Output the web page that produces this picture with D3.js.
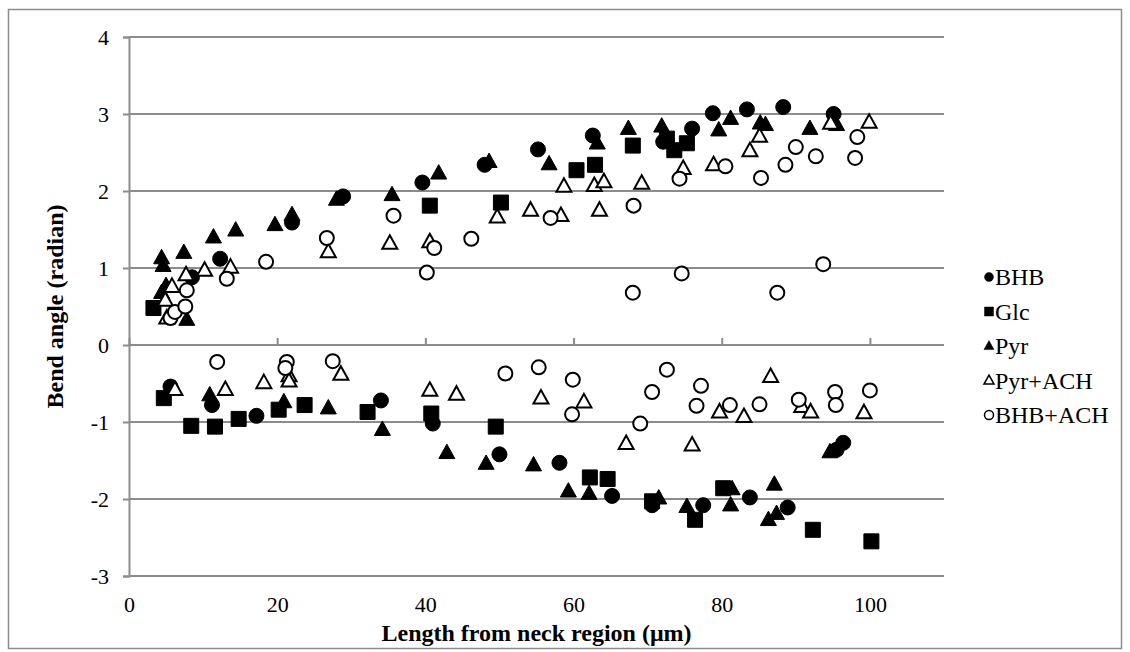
<!DOCTYPE html>
<html>
<head>
<meta charset="utf-8">
<script src="https://cdn.jsdelivr.net/npm/d3@7"></script>
<style>
  html, body { margin: 0; padding: 0; background: #fff; }
</style>
</head>
<body>
<svg id="chart" width="1130" height="652"></svg>
<script>
// Bend angle (radian) against length from the neck region (µm), five treatments.
const seriesNames = ["BHB", "Glc", "Pyr", "Pyr+ACH", "BHB+ACH"];

const bhbX = [8.5, 12.3, 22.0, 28.9, 39.6, 48.0, 55.2, 62.6, 72.1, 76.0, 78.8, 83.4, 88.3, 95.1,
              5.6, 11.2, 17.2, 34.0, 41.0, 50.0, 58.1, 65.2, 70.6, 77.5, 83.8, 88.9, 95.5, 96.4];
const bhbY = [0.88, 1.12, 1.59, 1.93, 2.11, 2.34, 2.54, 2.72, 2.64, 2.81, 3.01, 3.06, 3.09, 3.00,
              -0.54, -0.78, -0.92, -0.72, -1.02, -1.42, -1.53, -1.96, -2.08, -2.08, -1.98, -2.11, -1.36, -1.27];

const glcX = [3.3, 40.6, 50.2, 60.4, 62.9, 68.0, 72.6, 73.6, 75.3,
              4.7, 8.4, 11.6, 14.8, 20.2, 23.7, 32.2, 40.8, 49.5, 62.2, 64.6, 70.6, 76.4, 80.2, 92.3, 100.2];
const glcY = [0.48, 1.81, 1.85, 2.27, 2.34, 2.59, 2.68, 2.53, 2.62,
              -0.69, -1.05, -1.06, -0.96, -0.84, -0.78, -0.87, -0.89, -1.06, -1.72, -1.74, -2.03, -2.27, -1.86, -2.40, -2.55];

const pyrX = [4.4, 4.6, 4.4, 5.0, 7.8, 7.4, 11.4, 14.4, 19.7, 22.0, 28.0, 35.5, 41.8, 48.6, 56.7, 63.2, 67.4,
              71.9, 79.6, 81.2, 85.2, 85.9, 91.9, 95.5,
              10.9, 20.9, 26.9, 34.2, 42.9, 48.2, 54.6, 59.3, 62.1, 71.5, 75.3, 81.4, 81.2, 87.1, 86.3, 87.4, 94.6];
const pyrY = [1.13, 1.03, 0.68, 0.77, 0.33, 1.20, 1.40, 1.49, 1.56, 1.69, 1.89, 1.95, 2.23, 2.38, 2.35, 2.62, 2.81,
              2.84, 2.79, 2.94, 2.88, 2.86, 2.81, 2.86,
              -0.65, -0.74, -0.82, -1.10, -1.40, -1.54, -1.56, -1.90, -1.93, -1.99, -2.10, -1.87, -2.08, -1.81, -2.27, -2.19, -1.39];

const pyrAchX = [4.9, 5.1, 5.8, 7.7, 10.2, 13.7, 26.9, 35.2, 40.6, 49.7, 54.2, 58.3, 58.7, 62.8, 64.1, 63.5,
                 69.2, 74.8, 78.9, 83.8, 85.1, 94.7, 99.9,
                 6.2, 13.0, 18.2, 21.6, 21.6, 28.6, 40.6, 44.2, 55.6, 61.4, 67.1, 76.0, 79.7, 83.0, 86.6, 90.8, 92.0, 99.2];
const pyrAchY = [0.58, 0.35, 0.76, 0.91, 0.97, 1.01, 1.21, 1.32, 1.34, 1.66, 1.75, 1.68, 2.06, 2.07, 2.12, 1.75,
                 2.10, 2.29, 2.34, 2.52, 2.71, 2.88, 2.89,
                 -0.58, -0.58, -0.49, -0.40, -0.47, -0.38, -0.59, -0.64, -0.69, -0.74, -1.28, -1.30, -0.87, -0.93, -0.41, -0.80, -0.87, -0.88];

const bhbAchX = [5.6, 6.2, 7.6, 7.8, 13.2, 18.5, 26.7, 35.7, 40.2, 41.2, 46.2, 56.9, 68.1, 68.0, 74.3, 74.6,
                 80.5, 85.3, 87.5, 88.6, 90.0, 92.7, 93.7, 98.0, 98.3,
                 11.9, 21.3, 21.1, 27.5, 50.8, 55.3, 59.9, 59.8, 69.0, 70.6, 72.6, 76.6, 77.2, 81.1, 85.1, 90.4, 95.3, 95.4, 100.0];
const bhbAchY = [0.35, 0.43, 0.50, 0.71, 0.86, 1.08, 1.39, 1.68, 0.94, 1.26, 1.38, 1.65, 1.81, 0.68, 2.16, 0.93,
                 2.32, 2.17, 0.68, 2.34, 2.57, 2.45, 1.05, 2.43, 2.70,
                 -0.22, -0.22, -0.30, -0.21, -0.37, -0.29, -0.45, -0.90, -1.02, -0.61, -0.32, -0.79, -0.53, -0.78, -0.77, -0.71, -0.61, -0.78, -0.59];

const xTicks = [0, 20, 40, 60, 80, 100];
const yTicks = [-3, -2, -1, 0, 1, 2, 3, 4];

const series = [
  { name: seriesNames[0], xs: bhbX, ys: bhbY, shape: "circle", filled: true },
  { name: seriesNames[1], xs: glcX, ys: glcY, shape: "square", filled: true },
  { name: seriesNames[2], xs: pyrX, ys: pyrY, shape: "triangle", filled: true },
  { name: seriesNames[3], xs: pyrAchX, ys: pyrAchY, shape: "triangle", filled: false },
  { name: seriesNames[4], xs: bhbAchX, ys: bhbAchY, shape: "circle", filled: false }
];

const FONT = "'Liberation Serif', 'Times New Roman', Times, serif";
const svg = d3.select("#chart");
const gridColor = "#8c8c8c";

// chart frame
svg.append("rect").attr("width", 1130).attr("height", 652).attr("fill", "#fff");
svg.append("rect")
  .attr("x", 8.5).attr("y", 9.5).attr("width", 1113).attr("height", 639)
  .attr("fill", "none").attr("stroke", gridColor).attr("stroke-width", 1.5);

const x = d3.scaleLinear().domain([0, 110]).range([129, 944]);
const y = d3.scaleLinear().domain([-3, 4]).range([576, 37]);

// horizontal gridlines
svg.append("g").selectAll("line").data(yTicks).join("line")
  .attr("x1", x(0)).attr("x2", x(110))
  .attr("y1", d => y(d)).attr("y2", d => y(d))
  .attr("stroke", gridColor).attr("stroke-width", 2);

// y axis
const yAxis = svg.append("g").attr("transform", `translate(${x(0)},0)`)
  .call(d3.axisLeft(y).tickValues(yTicks).tickSize(6).tickPadding(14).tickFormat(d => String(d)));
yAxis.attr("font-family", null).attr("font-size", null);
yAxis.select(".domain").attr("stroke", gridColor).attr("stroke-width", 2);
yAxis.selectAll(".tick line").attr("stroke", gridColor).attr("stroke-width", 2);
yAxis.selectAll("text").style("font-family", FONT).style("font-size", "22px").attr("fill", "#000");

// x axis line crosses at y = 0, tick marks point up
const xAxisLine = svg.append("g").attr("transform", `translate(0,${y(0)})`)
  .call(d3.axisTop(x).tickValues(xTicks).tickSize(7).tickFormat(""));
xAxisLine.select(".domain").remove();
xAxisLine.selectAll(".tick line").attr("stroke", gridColor).attr("stroke-width", 2);

// x tick labels sit below the plot
const xLabels = svg.append("g").attr("transform", `translate(0,${y(-3)})`)
  .call(d3.axisBottom(x).tickValues(xTicks).tickSize(0).tickPadding(20).tickFormat(d => String(d)));
xLabels.attr("font-family", null).attr("font-size", null);
xLabels.select(".domain").remove();
xLabels.selectAll("text").style("font-family", FONT).style("font-size", "22px").attr("fill", "#000");

// axis titles
svg.append("text")
  .attr("x", (x(0) + x(110)) / 2).attr("y", 641)
  .attr("text-anchor", "middle")
  .style("font-family", FONT).style("font-size", "24px").style("font-weight", "bold")
  .attr("fill", "#000")
  .text("Length from neck region (μm)");
svg.append("text")
  .attr("transform", `translate(63,${(y(4) + y(-3)) / 2}) rotate(-90)`)
  .attr("text-anchor", "middle")
  .style("font-family", FONT).style("font-size", "24px").style("font-weight", "bold")
  .attr("fill", "#000")
  .text("Bend angle (radian)");

// marker paths
function markerPath(shape, size) {
  const h = size / 2;
  if (shape === "circle") return d3.symbol(d3.symbolCircle, Math.PI * h * h)();
  if (shape === "square") return `M${-h},${-h}H${h}V${h}H${-h}Z`;
  const th = size * 0.9;
  return `M0,${-th * 0.6}L${h},${th * 0.4}L${-h},${th * 0.4}Z`;
}
function markerSize(s) {
  if (s.shape === "circle") return s.filled ? 15 : 14;
  if (s.shape === "square") return 15;
  return s.filled ? 16 : 15;
}

// points, drawn series by series so later series sit on top
series.forEach(s => {
  const pts = s.xs.map((v, i) => [v, s.ys[i]]);
  svg.append("g").selectAll("path").data(pts).join("path")
    .attr("transform", d => `translate(${x(d[0])},${y(d[1])})`)
    .attr("d", markerPath(s.shape, markerSize(s)))
    .attr("fill", s.filled ? "#000" : "#fff")
    .attr("stroke", "#000")
    .attr("stroke-width", s.filled ? 1 : 2);
});

// legend
const legendY = d3.scalePoint().domain(seriesNames).range([277, 415]);
const legend = svg.append("g");
series.forEach(s => {
  const g = legend.append("g").attr("transform", `translate(989,${legendY(s.name)})`);
  g.append("path")
    .attr("d", markerPath(s.shape, s.shape === "triangle" ? 10 : 9))
    .attr("fill", s.filled ? "#000" : "#fff")
    .attr("stroke", "#000").attr("stroke-width", s.filled ? 0.5 : 1.5);
  g.append("text").attr("x", 6).attr("dy", "0.35em")
    .style("font-family", FONT).style("font-size", "24px").attr("fill", "#000")
    .text(s.name);
});
</script>
</body>
</html>
